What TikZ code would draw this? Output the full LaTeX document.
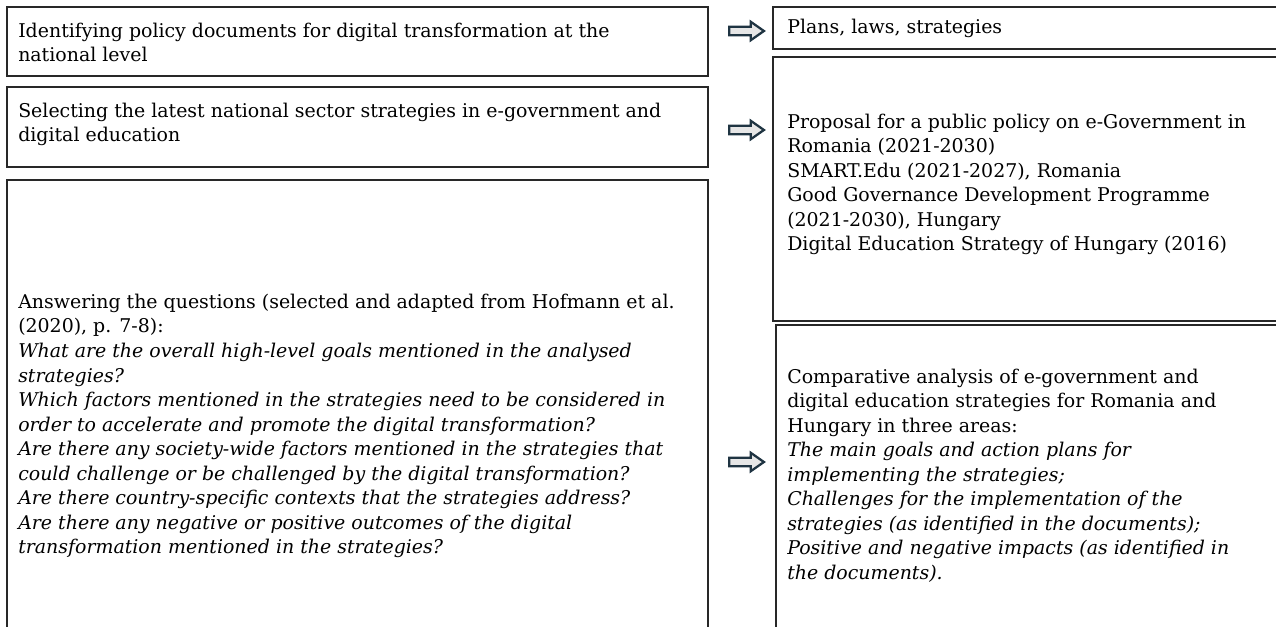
\documentclass[tikz,border=0pt]{standalone}
\usepackage{fontspec}
\setmainfont{DejaVu Serif}
\usetikzlibrary{positioning,shapes.arrows}

\definecolor{arrowline}{RGB}{31,52,66}
\definecolor{arrowfill}{RGB}{230,230,230}
\definecolor{boxline}{RGB}{40,40,40}

\tikzset{
  stagebox/.style={draw=boxline, line width=1.1pt},
  boxtext/.style={anchor=west, inner sep=0pt, align=left, font=\fontsize{14.2}{18.4}\selectfont},
  flowarrow/.style={single arrow, draw=arrowline, fill=arrowfill, line width=1.7pt,
    inner sep=2.4pt, minimum width=0pt, minimum height=26pt,
    single arrow head extend=3.7pt, single arrow tip angle=70}
}

\begin{document}
\begin{tikzpicture}[x=0.75pt,y=0.75pt,yscale=-1,xscale=1]

\clip (0,0) rectangle (1276,627);

%Left column boxes
\draw [stagebox] (7,7) rectangle (708,76);
\draw [stagebox] (7,87) rectangle (708,167);
\draw [stagebox] (7,180) rectangle (708,680);

%Right column boxes
\draw [stagebox] (773,7) rectangle (1290,49);
\draw [stagebox] (773,57) rectangle (1290,321);
\draw [stagebox] (776,325) rectangle (1290,680);

% Text Node
\node (identify) [boxtext] at (18,42.5) {Identifying policy documents for digital transformation at the \\ national level};
% Text Node
\node (select) [boxtext] at (18,124.5) {Selecting the latest national sector strategies in e-government and \\ digital education};
% Text Node
\node (answer) [boxtext] at (18,426) {Answering the questions (selected and adapted from Hofmann et al. \\
(2020), p. 7-8): \\
\textit{What are the overall high-level goals mentioned in the analysed} \\
\textit{strategies?} \\
\textit{Which factors mentioned in the strategies need to be considered in} \\
\textit{order to accelerate and promote the digital transformation?} \\
\textit{Are there any society-wide factors mentioned in the strategies that} \\
\textit{could challenge or be challenged by the digital transformation?} \\
\textit{Are there country-specific contexts that the strategies address?} \\
\textit{Are there any negative or positive outcomes of the digital} \\
\textit{transformation mentioned in the strategies?}};

% Text Node
\node (plans) [boxtext] at (787,28) {Plans, laws, strategies};
% Text Node
\node (docs) [boxtext] at (787,184.5) {Proposal for a public policy on e-Government in \\
Romania (2021-2030) \\
SMART.Edu (2021-2027), Romania \\
Good Governance Development Programme \\
(2021-2030), Hungary \\
Digital Education Strategy of Hungary (2016)};
% Text Node
\node (compare) [boxtext] at (787,475.5) {Comparative analysis of e-government and \\
digital education strategies for Romania and \\
Hungary in three areas: \\
\textit{The main goals and action plans for} \\
\textit{implementing the strategies;} \\
\textit{Challenges for the implementation of the} \\
\textit{strategies (as identified in the documents);} \\
\textit{Positive and negative impacts (as identified in} \\
\textit{the documents).}};

%Block arrows between the columns
\node (arrA) [flowarrow] at (743.5,31) {};
\node (arrB) [flowarrow] at (743.5,130) {};
\node (arrC) [flowarrow] at (743.5,462) {};

\end{tikzpicture}
\end{document}
